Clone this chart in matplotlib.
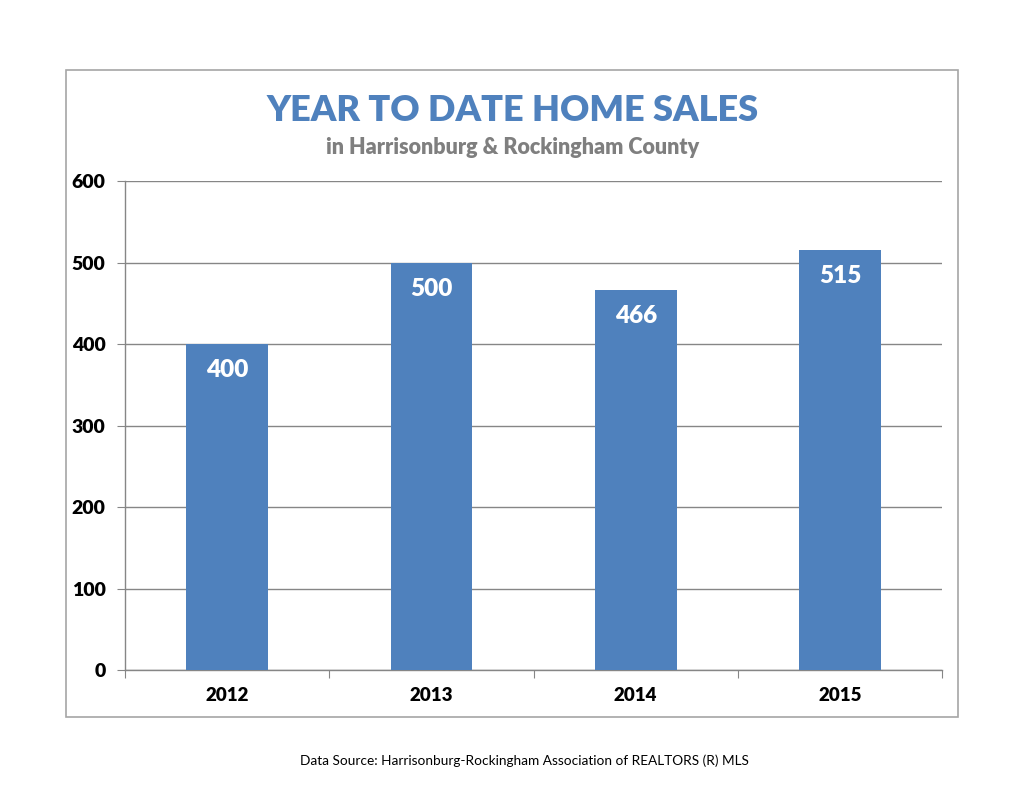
import matplotlib
matplotlib.use('Agg')
import matplotlib.pyplot as plt
from matplotlib.patches import Rectangle

# Datos
years = ['2012', '2013', '2014', '2015']
sales = [400, 500, 466, 515]
y_ticks = [0, 100, 200, 300, 400, 500, 600]

azul = '#4f81bd'
gris = '#868686'
plt.rcParams['font.family'] = ['Lato', 'DejaVu Sans']

fig = plt.figure(figsize=(10.35, 8), dpi=100, facecolor='white')

# Marco exterior del grafico
fig.patches.append(Rectangle((0.0638, 0.1037), 0.8618, 0.809, transform=fig.transFigure,
                             fill=False, edgecolor='#a6a6a6', linewidth=1.2))

ax = fig.add_axes([0.1208, 0.1625, 0.7894, 0.611])
x = range(len(years))
bars = ax.bar(x, sales, width=0.4, color=azul, zorder=3)

ax.set_xlim(-0.5, len(years) - 0.5)
ax.set_ylim(0, 600)
ax.set_yticks(y_ticks)
ax.set_yticklabels([str(v) for v in y_ticks], fontsize=14, fontweight='heavy')
ax.yaxis.grid(True, color=gris, linewidth=1, zorder=0)

# Ticks del eje x en los limites de categoria
ax.set_xticks([i + 0.5 for i in range(-1, len(years))])
ax.set_xticklabels([''] * (len(years) + 1))
ax.set_xticks(list(x), minor=True)
ax.set_xticklabels(years, minor=True, fontsize=13.5, fontweight='heavy')
ax.tick_params(axis='x', which='major', direction='out', length=6, color=gris)
ax.tick_params(axis='x', which='minor', length=0, pad=12)
ax.tick_params(axis='y', direction='out', length=6, color=gris, pad=8)

for s in ['top', 'right']:
    ax.spines[s].set_visible(False)
for s in ['left', 'bottom']:
    ax.spines[s].set_color(gris)
    ax.spines[s].set_linewidth(1)

# Etiquetas de datos
for xi, v in zip(x, sales):
    ax.annotate(str(v), (xi, v), xytext=(0, -26), textcoords='offset pixels',
                ha='center', va='center', color='white', fontsize=17.5, fontweight='heavy')

fig.text(0.495, 0.862, 'YEAR TO DATE HOME SALES', ha='center', va='center',
         color=azul, fontsize=26, fontweight='heavy')
fig.text(0.495, 0.815, 'in Harrisonburg & Rockingham County', ha='center', va='center',
         color='#7f7f7f', fontsize=15.5, fontweight='heavy')
fig.text(0.507, 0.049, 'Data Source: Harrisonburg-Rockingham Association of REALTORS (R) MLS',
         ha='center', va='center', color='black', fontsize=9.8)

fig.savefig('out.png', dpi=100, facecolor='white')
